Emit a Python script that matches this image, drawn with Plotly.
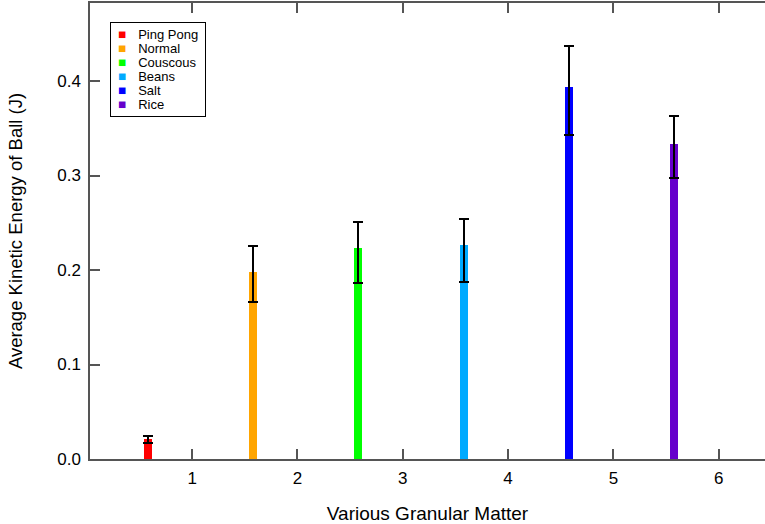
import plotly.graph_objects as go

categories = ["Ping Pong", "Normal", "Couscous", "Beans", "Salt", "Rice"]
positions = [1, 2, 3, 4, 5, 6]
energy = [0.0215, 0.198, 0.2233, 0.2265, 0.394, 0.3333]
err_plus = [0.0024, 0.027, 0.028, 0.027, 0.0434, 0.0297]
err_minus = [0.005, 0.032, 0.0375, 0.039, 0.051, 0.036]
colors = ["#FF0000", "#FFA500", "#00FF00", "#00AAFF", "#0000FF", "#6600CC"]
y_ticks = [0.0, 0.1, 0.2, 0.3, 0.4]
x_ticks = [1, 2, 3, 4, 5, 6]

FONT = "Liberation Sans, Arial, Helvetica, sans-serif"
AXC = "#555555"

fig = go.Figure()
for name, x, y, ep, em, c in zip(categories, positions, energy, err_plus, err_minus, colors):
    fig.add_trace(go.Bar(
        name=name, x=[x], y=[y], marker=dict(color=c, line=dict(width=0)),
        width=0.076, offset=-0.46,
        error_y=dict(type="data", symmetric=False, array=[ep], arrayminus=[em],
                     color="black", thickness=2, width=5),
        showlegend=False,
    ))

# legend box built from the category/colour lists
legend_text = "<br>".join(
    f"\u00a0<span style='color:{c};font-size:13.5px'>\u25A0</span>\u00a0\u00a0\u00a0\u00a0<span style='font-size:13px'>{n}</span>\u00a0"
    for n, c in zip(categories, colors)
)
fig.add_annotation(
    xref="paper", yref="paper", x=0.0296, y=0.958, xanchor="left", yanchor="top",
    text=legend_text, showarrow=False, align="left",
    font=dict(family=FONT, size=10.8, color="black"),
    bordercolor="black", borderwidth=1, borderpad=4, bgcolor="white",
)

fig.update_layout(
    width=765, height=524,
    margin=dict(l=90, r=0, t=3, b=65),
    paper_bgcolor="white", plot_bgcolor="white",
    font=dict(family=FONT, color="black"),
    bargap=0,
    xaxis=dict(
        range=[0.03, 6.44], tickvals=x_ticks, ticks="inside", ticklen=10,
        tickwidth=1.5, tickcolor=AXC, showline=True, linecolor=AXC, linewidth=1.5,
        mirror="ticks", showgrid=False, zeroline=False, automargin=False,
        tickfont=dict(size=17, family=FONT), ticklabelstandoff=3,
        title=dict(text="Various Granular Matter", font=dict(size=19, family=FONT), standoff=23),
    ),
    yaxis=dict(
        range=[0, 0.4826], tickvals=y_ticks, tickformat=".1f", ticks="inside", ticklen=10,
        tickwidth=1.5, tickcolor=AXC, showline=True, linecolor=AXC, linewidth=1.5,
        showgrid=False, zeroline=False, automargin=False,
        tickfont=dict(size=17, family=FONT), ticklabelstandoff=4,
        title=dict(text="Average Kinetic Energy of Ball (J)", font=dict(size=18.5, family=FONT), standoff=30),
    ),
)

fig.write_html("out.html", config={"displayModeBar": False},
               post_script="document.body.style.margin='0';")
